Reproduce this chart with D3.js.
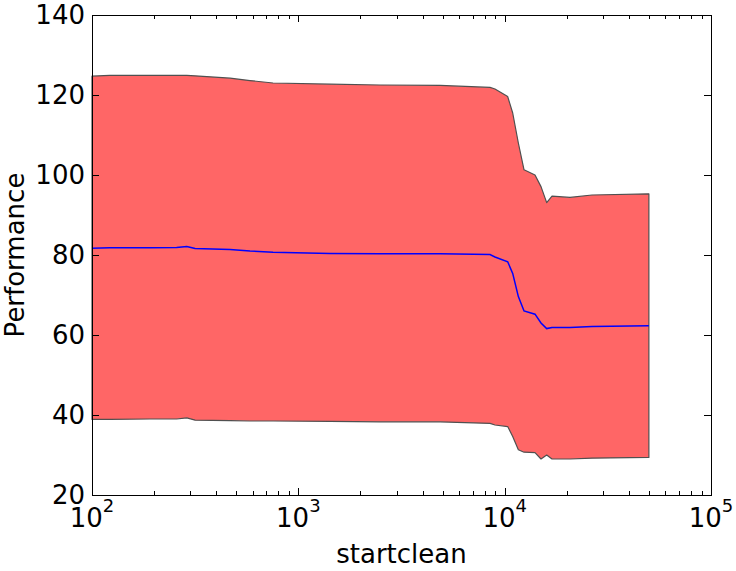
<!DOCTYPE html>
<html>
<head>
<meta charset="utf-8">
<script src="https://cdn.jsdelivr.net/npm/d3@7"></script>
<style>
  body { margin: 0; background: #fff; }
  svg { display: block; font-family: "DejaVu Sans", sans-serif; }
</style>
</head>
<body>
<svg id="chart" width="736" height="571"></svg>
<script>
// ---- data ----
const startclean = [100, 122, 191, 257, 288, 316, 467, 583, 754, 1424, 2489, 4864, 8492, 8975, 10345, 10938, 11650, 12412, 14030, 15000, 15983, 16960, 20740, 26500, 50000];
const upperBound = [124.7, 124.9, 124.9, 124.9, 124.9, 124.8, 124.2, 123.6, 123.0, 122.7, 122.5, 122.4, 121.9, 121.5, 119.6, 115.5, 108.0, 101.3, 100.0, 97.1, 93.1, 94.7, 94.4, 95.0, 95.3];
const meanPerf   = [81.7, 81.8, 81.8, 81.9, 82.1, 81.6, 81.4, 81.0, 80.7, 80.4, 80.3, 80.3, 80.1, 79.5, 78.3, 75.4, 69.6, 66.0, 65.2, 63.0, 61.6, 61.9, 61.9, 62.1, 62.3];
const lowerBound = [38.9, 38.9, 39.0, 39.0, 39.3, 38.7, 38.6, 38.5, 38.5, 38.4, 38.3, 38.3, 37.9, 37.5, 37.1, 34.6, 31.3, 30.7, 30.6, 29.0, 30.0, 29.0, 29.0, 29.2, 29.4];
const yTicks = [20, 40, 60, 80, 100, 120, 140];
const xDecades = [2, 3, 4, 5];
const xLabel = "startclean";
const yLabel = "Performance";

// ---- layout ----
const L = 92, R = 711, T = 15, B = 495;
const svg = d3.select("#chart");
const x = d3.scaleLog().domain([100, 1e5]).range([L, R]);
const y = d3.scaleLinear().domain([20, 140]).range([B, T]);

const rows = startclean.map((v, i) => ({x: v, u: upperBound[i], m: meanPerf[i], l: lowerBound[i]}));

// band
const area = d3.area().x(d => x(d.x)).y0(d => y(d.l)).y1(d => y(d.u));
svg.append("path").datum(rows)
  .attr("d", area)
  .attr("fill", "#ff6666")
  .attr("stroke", "#505050")
  .attr("stroke-width", 1.2)
  .attr("stroke-linejoin", "round");

// mean line
const line = d3.line().x(d => x(d.x)).y(d => y(d.m));
svg.append("path").datum(rows)
  .attr("d", line)
  .attr("fill", "none")
  .attr("stroke", "#0000ff")
  .attr("stroke-width", 1.5);

// ticks
const g = svg.append("g").attr("stroke", "#000").attr("stroke-width", 1);
const major = 7, minor = 4;
yTicks.forEach(t => {
  const yy = Math.round(y(t)) + 0.5;
  g.append("line").attr("x1", L).attr("x2", L + major).attr("y1", yy).attr("y2", yy);
  g.append("line").attr("x1", R).attr("x2", R - major).attr("y1", yy).attr("y2", yy);
});
const minorTicks = [];
for (let d = 2; d < 5; d++) for (let k = 2; k <= 9; k++) minorTicks.push(k * Math.pow(10, d));
minorTicks.forEach(t => {
  const xx = Math.round(x(t)) + 0.5;
  g.append("line").attr("x1", xx).attr("x2", xx).attr("y1", B).attr("y2", B - minor);
  g.append("line").attr("x1", xx).attr("x2", xx).attr("y1", T).attr("y2", T + minor);
});
xDecades.forEach(d => {
  const xx = Math.round(x(Math.pow(10, d))) + 0.5;
  g.append("line").attr("x1", xx).attr("x2", xx).attr("y1", B).attr("y2", B - major);
  g.append("line").attr("x1", xx).attr("x2", xx).attr("y1", T).attr("y2", T + major);
});

// frame
svg.append("rect").attr("x", L + 0.5).attr("y", T + 0.5)
  .attr("width", R - L).attr("height", B - T)
  .attr("fill", "none").attr("stroke", "#000").attr("stroke-width", 1);

// y tick labels
yTicks.forEach(t => {
  svg.append("text").attr("x", L - 7).attr("y", y(t))
    .attr("text-anchor", "end").attr("dominant-baseline", "central")
    .attr("font-size", 26).attr("fill", "#000").text(t);
});

// x tick labels
xDecades.forEach(d => {
  const tx = svg.append("text").attr("x", x(Math.pow(10, d))).attr("y", 527)
    .attr("text-anchor", "middle").attr("font-size", 26).attr("fill", "#000");
  tx.append("tspan").text("10");
  tx.append("tspan").attr("font-size", 18).attr("dy", -15.5).text(d);
});

// axis labels
svg.append("text").attr("x", (L + R) / 2).attr("y", 563)
  .attr("text-anchor", "middle").attr("font-size", 26).attr("fill", "#000").text(xLabel);
svg.append("text").attr("transform", `translate(23.5,${(T + B) / 2}) rotate(-90)`)
  .attr("text-anchor", "middle").attr("font-size", 26).attr("fill", "#000").text(yLabel);
</script>
</body>
</html>
